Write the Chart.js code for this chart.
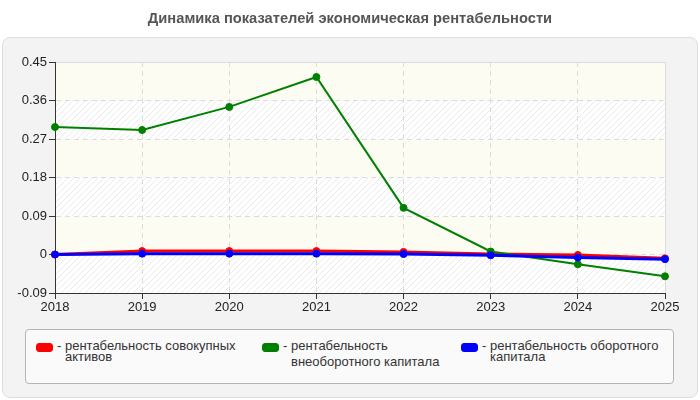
<!DOCTYPE html>
<html>
<head>
<meta charset="utf-8">
<script src="https://cdn.jsdelivr.net/npm/chart.js@4/dist/chart.umd.min.js"></script>
<style>
  html, body { margin:0; padding:0; width:700px; height:400px; background:#fff; overflow:hidden; font-family:"Liberation Sans", Arial, sans-serif; }
  #panel { position:absolute; left:2px; top:37px; width:694px; height:359px; background:#f3f3f3; border:1px solid #dedede; border-radius:8px; }
  #title { position:absolute; left:0; top:10px; width:700px; text-align:center; font-weight:bold; font-size:14.7px; color:#555; }
  canvas { position:absolute; left:0; top:0; }
  #legend { position:absolute; left:25px; top:329px; width:647px; height:53px; background:#fafafa; border:1px solid #b4b4b4; border-radius:4px; }
  .sw { position:absolute; width:15px; height:7px; border-radius:3px; top:13px; }
  .lt { position:absolute; font-size:13px; color:#333; white-space:nowrap; line-height:14px; }
</style>
</head>
<body>
<div id="panel"></div>
<canvas id="c" width="700" height="400"></canvas>
<div id="title">Динамика показателей экономическая рентабельности</div>
<div id="legend"></div>
<script>
const years = ["2018","2019","2020","2021","2022","2023","2024","2025"];
const seriesNames = ["рентабельность совокупных активов","рентабельность внеоборотного капитала","рентабельность оборотного капитала"];
const legendLines = [["рентабельность совокупных","активов"],["рентабельность","внеоборотного капитала"],["рентабельность оборотного","капитала"]];
const totalAssets = [0.000, 0.008, 0.008, 0.008, 0.006, 0.001, -0.001, -0.009];
const nonCurrent = [0.298, 0.291, 0.345, 0.415, 0.109, 0.007, -0.023, -0.051];
const working = [0.000, 0.002, 0.002, 0.002, 0.001, -0.002, -0.007, -0.011];
const yTicks = [-0.09, 0, 0.09, 0.18, 0.27, 0.36, 0.45];
const colors = ["#ff0000", "#008000", "#0000ff"];

// legend
const legend = document.getElementById('legend');
const lx = [10, 236, 435];
const line2dy = [11, 16, 11];
legendLines.forEach((lines, i) => {
  const sw = document.createElement('div');
  sw.className = 'sw';
  sw.style.left = lx[i] + 'px';
  sw.style.background = colors[i];
  sw.style.border = '1px solid ' + colors[i];
  legend.appendChild(sw);
  const d = document.createElement('div');
  d.className = 'lt'; d.style.left = (lx[i] + 21) + 'px'; d.style.top = '9px';
  d.textContent = '- ' + lines[0];
  legend.appendChild(d);
  const d2 = document.createElement('div');
  d2.className = 'lt'; d2.style.left = (lx[i] + 29) + 'px'; d2.style.top = (9 + line2dy[i]) + 'px';
  d2.textContent = lines[1];
  legend.appendChild(d2);
});

// hatch pattern
function makeHatch() {
  const p = document.createElement('canvas');
  p.width = 6; p.height = 6;
  const g = p.getContext('2d');
  g.fillStyle = '#ffffff'; g.fillRect(0,0,6,6);
  g.strokeStyle = '#eaeaea'; g.lineWidth = 1;
  g.beginPath();
  g.moveTo(0,6); g.lineTo(6,0);
  g.moveTo(-3,3); g.lineTo(3,-3);
  g.moveTo(3,9); g.lineTo(9,3);
  g.stroke();
  return g.createPattern(p, 'repeat');
}

const bgPlugin = {
  id: 'bands',
  beforeDraw(chart) {
    const {ctx, chartArea: a, scales: {y}} = chart;
    const hatch = makeHatch();
    ctx.save();
    for (let i = 0; i < yTicks.length - 1; i++) {
      const y1 = y.getPixelForValue(yTicks[i]);
      const y2 = y.getPixelForValue(yTicks[i+1]);
      ctx.fillStyle = (i % 2 === 0) ? hatch : '#fcfcf3';
      ctx.fillRect(a.left, y2, a.right - a.left, y1 - y2);
    }
    ctx.strokeStyle = '#dcdcdc'; ctx.lineWidth = 1;
    ctx.beginPath();
    ctx.moveTo(a.left, a.top + 0.5); ctx.lineTo(a.right + 0.5, a.top + 0.5);
    ctx.lineTo(a.right + 0.5, a.bottom);
    ctx.stroke();
    ctx.restore();
  }
};

function ds(label, data, color, order, width) {
  return { label, data, borderColor: color, backgroundColor: color, borderWidth: width,
           pointRadius: 3.5, pointHoverRadius: 3.5, pointBorderWidth: 1, tension: 0, order };
}

new Chart(document.getElementById('c'), {
  type: 'line',
  data: {
    labels: years,
    datasets: [
      ds(seriesNames[0], totalAssets, colors[0], 3, 3),
      ds(seriesNames[1], nonCurrent, colors[1], 2, 2),
      ds(seriesNames[2], working, colors[2], 1, 3)
    ]
  },
  options: {
    responsive: false,
    animation: false,
    layout: { padding: { left: 0, right: 35, top: 62, bottom: 77 } },
    plugins: { legend: { display: false }, title: { display: false }, tooltip: { enabled: false } },
    scales: {
      x: {
        offset: false,
        grid: { color: '#dcdcdc', tickColor: '#333', tickLength: 6, tickBorderDash: [] },
        border: { color: '#333', width: 1, dash: [5, 4] },
        ticks: { color: '#222', font: { family: 'Liberation Sans, Arial', size: 13 }, padding: 1, maxRotation: 0 },
        afterFit(s) { s.height = 30; }
      },
      y: {
        min: -0.09, max: 0.45,
        afterBuildTicks(s) { s.ticks = yTicks.map(v => ({ value: v })); },
        grid: { color: '#dcdcdc', tickColor: '#333', tickLength: 6, tickBorderDash: [] },
        border: { color: '#333', width: 1, dash: [5, 4] },
        ticks: { color: '#222', font: { family: 'Liberation Sans, Arial', size: 13 }, padding: 2,
                 callback: v => (Math.abs(v) < 1e-9 ? '0' : String(Math.round(v * 100) / 100)) },
        afterFit(s) { s.width = 55; }
      }
    }
  },
  plugins: [bgPlugin]
});
</script>
</body>
</html>
